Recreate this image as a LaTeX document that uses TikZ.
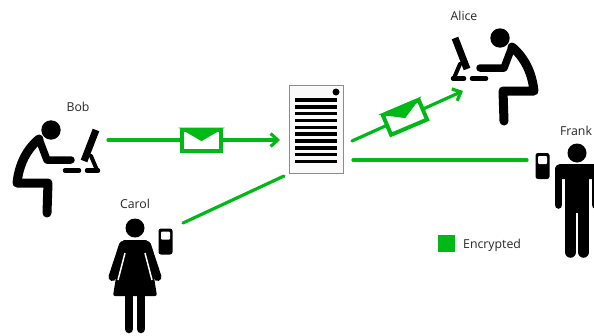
\documentclass[tikz,border=0pt]{standalone}
\usepackage{fontspec}
\usetikzlibrary{arrows.meta}
\setmainfont{Open Sans}
\definecolor{mailgreen}{HTML}{00B916}
\tikzset{
    name text/.style={font=\fontsize{12.3}{14}\selectfont, text=black!85, inner sep=0pt},
    mail line/.style={draw=mailgreen, line width=3.2pt, line cap=round},
    mail tip/.style={-{Straight Barb[length=7pt,width=13pt]}},
    envelope/.style={draw=mailgreen, fill=white, line width=4pt, rectangle, inner sep=0pt,
        minimum width=39pt, minimum height=21pt},
    sitting/.pic={
        \fill (0,0) circle [radius=9.7];
        \draw[line width=9pt, line cap=round, line join=round] (-12,9) .. controls (-25,20) and (-32,35) .. (-34,53) -- (-3,53) -- (-4,83);
        \draw[line width=7.5pt, line cap=round, line join=round] (-12,9) -- (-4,30) -- (20,30);
        \draw[line width=4.5pt, line cap=round] (14,40.5) -- (28,40.5) (36,40.5) -- (47,40.5);
        \draw[line width=7pt] (45,0) -- (33,31);
        \draw[line width=4pt, line cap=round] (40,26) -- (46,40);
    },
    phone/.pic={
        \fill[rounded corners=2.5pt] (0,0) rectangle (14,26);
        \fill[white, rounded corners=1pt] (2.5,3) rectangle (11.5,11);
    },
    woman/.pic={
        \fill (0,0) circle [radius=9.5];
        \draw[line width=8pt, line cap=round, line join=round] (-12,17) -- (-22.5,49) (12,17) -- (22.5,49);
        \fill[rounded corners=2pt] (-13,12) -- (13,12) -- (22,68) -- (-22,68) -- cycle;
        \draw[white, line width=1.5pt] (-10,25) -- (-17,52) (10,25) -- (17,52);
        \draw[line width=8.5pt, line cap=round] (-6,66) -- (-6,101) (6,66) -- (6,101);
    },
    man/.pic={
        \fill (0,0) circle [radius=9.5];
        \fill[rounded corners=5pt] (-22,11) rectangle (22,26);
        \fill (-12,16) rectangle (12,60);
        \draw[line width=7.5pt, line cap=round] (-18.5,16) -- (-18.5,52) (18.5,16) -- (18.5,52);
        \draw[line width=11.5pt, line cap=round] (-6.5,55) -- (-6.5,99) (6.5,55) -- (6.5,99);
    }
}
\begin{document}
\begin{tikzpicture}[x=1pt, y=-1pt]
        \path[use as bounding box] (0,0) rectangle (594,335);

        % people
        \pic (bob) at (51,130) {sitting};
        \pic (alice) [xscale=-1] at (500,38) {sitting};
        \pic (carol) at (135,228) {woman};
        \pic (frank) at (577,153) {man};
        \pic (carolphone) at (158.5,228.5) {phone};
        \pic (frankphone) at (535.5,153) {phone};

        \node[name text] (boblabel) at (78,107) {Bob};
        \node[name text] (carollabel) at (135,204) {Carol};
        \node[name text] (alicelabel) at (464,16) {Alice};
        \node[name text] (franklabel) at (576,131) {Frank};

        % server
        \node[draw=black!45, fill=black!2, line width=0.6pt, minimum width=54pt, minimum height=88pt, inner sep=0pt] (server) at (316,129) {};
        \fill (336,92) circle [radius=3.5];
        \foreach \n in {0,...,9} {
            \fill (295,{98.3+6.83*\n}) rectangle (336.5,{101.8+6.83*\n});
        };

        % free ends
        \coordinate (bobout) at (108,140);
        \coordinate (serverin) at (280,140);
        \coordinate (carolout) at (183,223);
        \coordinate (serverleft) at (284,176);
        \coordinate (serverup) at (352,141);
        \coordinate (aliceout) at (463,91);
        \coordinate (serverdown) at (353,160);
        \coordinate (frankout) at (527,160);

        \draw[mail line, mail tip] (bobout) -- (serverin);
        \draw[mail line] (carolout) -- (serverleft);
        \draw[mail line, mail tip] (serverup) -- (aliceout);
        \draw[mail line] (serverdown) -- (frankout);

        \node[envelope] (bobmail) at (201.5,140.5) {};
        \node[envelope, rotate=23] (alicemail) at (405,117.5) {};
        \foreach \m in {bobmail,alicemail} {
            \filldraw[mailgreen, line width=1pt] (\m.north west) -- (\m.north east) -- (\m.center) -- cycle;
        };

        % legend
        \node[fill=mailgreen, minimum size=17pt, inner sep=0pt] (legendbox) at (446.5,243.5) {};
        \node[name text, anchor=west] (legendtext) at (463,245) {Encrypted};
\end{tikzpicture}
\end{document}
